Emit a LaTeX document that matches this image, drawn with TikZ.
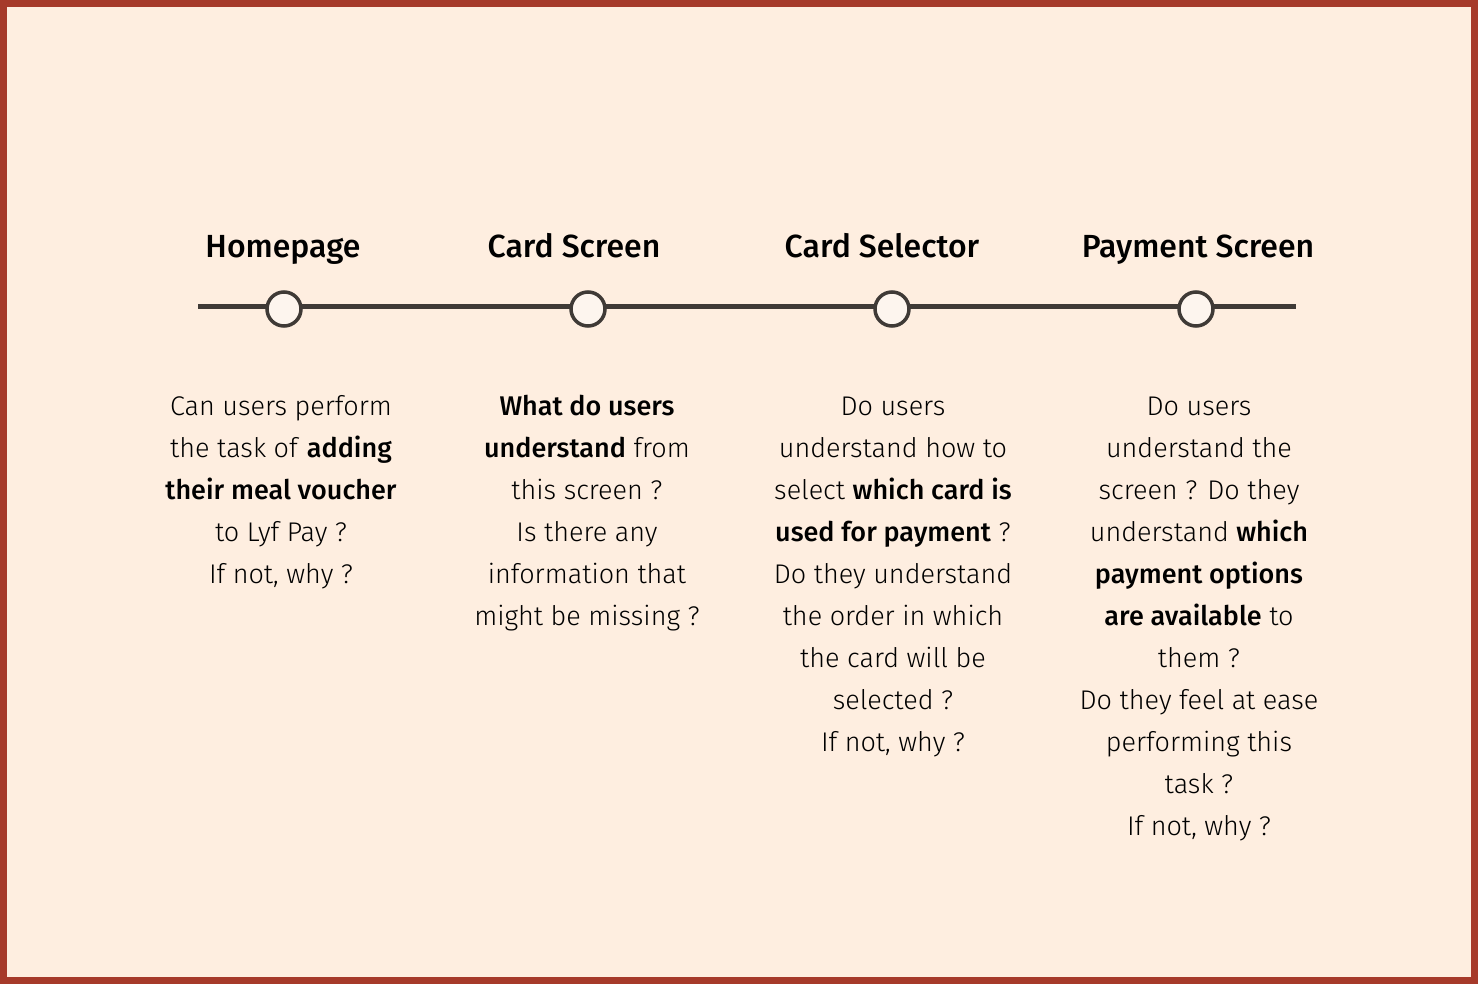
\documentclass[tikz,border=0pt]{standalone}
\usepackage{fontspec}
\setmainfont{Fira Sans}[UprightFont={* Light}, BoldFont={* Medium}]
\usepackage{tikz}
\definecolor{framered}{HTML}{A63A2A}
\definecolor{paper}{HTML}{FEEEE0}
\definecolor{linegray}{HTML}{3F3A36}
\definecolor{dotfill}{HTML}{FDF5EE}
\tikzset{
  stagedot/.style={circle, draw=linegray, line width=3.5pt, fill=dotfill, minimum size=34pt, inner sep=0pt},
  stagetitle/.style={anchor=base, font=\fontsize{32}{36}\selectfont\bfseries},
  stagetext/.style={anchor=north, inner sep=0pt, align=center, font=\fontsize{27}{42}\selectfont}
}
\begin{document}
\begin{tikzpicture}[x=1pt, y=-1pt]
\useasboundingbox (0,0) rectangle (1478,984);
\fill[paper] (0,0) rectangle (1478,984);
\draw[framered, line width=7pt] (3.5,3.5) rectangle (1474.5,980.5);
%
\coordinate(start) at (198,307);
\coordinate(end) at (1296,307);
\draw[linegray, line width=5pt](start) -- (end);
\node[stagedot](home) at (284,309) {};
\node[stagedot](card) at (588,309) {};
\node[stagedot](select) at (892,309) {};
\node[stagedot](pay) at (1196,309) {};
%
\node[stagetitle](hometitle) at (283,258) {Homepage};
\node[stagetitle](cardtitle) at (574,258) {Card Screen};
\node[stagetitle](selecttitle) at (882,258) {Card Selector};
\node[stagetitle](paytitle) at (1198,258) {Payment Screen};
%
\node[stagetext](hometext) at (281,395) {Can users perform\\the task of \textbf{adding}\\\textbf{their meal voucher}\\to Lyf Pay ?\\If not, why ?};
\node[stagetext](cardtext) at (587,395) {\textbf{What do users}\\\textbf{understand} from\\this screen ?\\Is there any\\information that\\might be missing ?};
\node[stagetext](selecttext) at (893,397) {Do users\\understand how to\\select \textbf{which card is}\\\textbf{used for payment} ?\\Do they understand\\the order in which\\the card will be\\selected ?\\If not, why ?};
\node[stagetext](paytext) at (1199,397) {Do users\\understand the\\screen ? Do they\\understand \textbf{which}\\\textbf{payment options}\\\textbf{are available} to\\them ?\\Do they feel at ease\\performing this\\task ?\\If not, why ?};
\end{tikzpicture}
\end{document}
